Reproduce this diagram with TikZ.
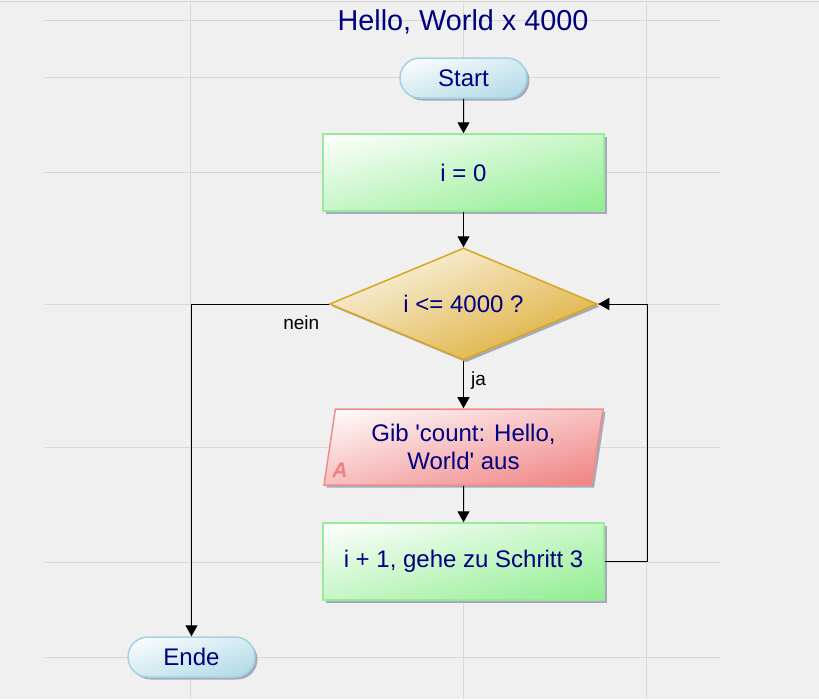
\documentclass[tikz,border=0pt]{standalone}
\usepackage{fontspec}
\setmainfont{Liberation Sans}
\usetikzlibrary{shapes.geometric,shapes.misc,arrows.meta,shadows}
\definecolor{bg}{HTML}{F0F0F0}
\definecolor{gridc}{HTML}{D8D8D8}
\definecolor{txt}{HTML}{000080}
\definecolor{shadowc}{HTML}{A4ACBC}
\definecolor{pillb}{HTML}{A4D2E2}
\definecolor{pillf}{HTML}{ADD8E6}
\definecolor{procb}{HTML}{98EC98}
\definecolor{procf}{HTML}{90EE90}
\definecolor{decb}{HTML}{DAA520}
\definecolor{decf}{HTML}{DAA520}
\definecolor{iob}{HTML}{F08C8C}
\definecolor{iof}{HTML}{F08080}
\begin{document}
\begin{tikzpicture}[x=1pt,y=-1pt,
  gridline/.style={draw=gridc,line width=1pt},
  shad/.style={drop shadow={shadow xshift=2.5pt,shadow yshift=-2.5pt,fill=shadowc,opacity=1}},
  nodetext/.style={text=txt,font=\fontsize{24pt}{28pt}\selectfont,align=center,inner sep=0pt},
  grad/.style={shad,
    preaction={fill opacity=1,left color=white,right color=#1},
    top color=white,bottom color=#1,fill opacity=0.5,draw opacity=1,text opacity=1},
  pill/.style={nodetext,rounded rectangle,draw=pillb,line width=1.5pt,grad=pillf,
    minimum width=127pt,minimum height=40pt},
  proc/.style={nodetext,rectangle,draw=procb,line width=1.5pt,grad=procf,
    minimum width=281pt,minimum height=77pt},
  dec/.style={nodetext,diamond,aspect=2.39,draw=decb,line width=1.5pt,grad=decf,
    minimum width=268pt,minimum height=112pt},
  iobox/.style={nodetext,trapezium,trapezium left angle=76,trapezium right angle=104,
    trapezium stretches body,draw=iob,line width=1.5pt,grad=iof,
    minimum width=279pt,minimum height=76pt},
  conn/.style={draw=black,line width=1pt,-{Triangle[length=11pt,width=12pt]}},
  lab/.style={text=black,font=\fontsize{19pt}{22pt}\selectfont,inner sep=0pt},
]
\useasboundingbox[fill=bg] (0,0) rectangle (819,699);
\draw[draw=gridc!85!black!60,line width=1pt] (0,1) -- (819,1);
% grid
\foreach \gx in {190,463,646} \draw[gridline] (\gx,3) -- (\gx,699);
\foreach \gy in {20,77,172,304,447,562,657} \draw[gridline] (45,\gy) -- (720,\gy);
% title
\node[text=txt,font=\fontsize{28.8pt}{32pt}\selectfont,inner sep=0pt] (title) at (463,22) {Hello, World x 4000};
% nodes
\node[pill] (start) at (463.5,78) {Start};
\node[proc] (init) at (463.5,172.5) {i = 0};
\node[dec] (cond) at (463.5,304) {i <= 4000 ?};
\node[iobox] (out) at (463.5,447) {Gib \textquotesingle count: Hello,\\World\textquotesingle{} aus};
\node[text=iof,font=\bfseries\itshape\fontsize{21pt}{21pt}\selectfont,inner sep=0pt] (outA) at (340,470) {A};
\node[proc] (inc) at (463.5,561.5) {i + 1, gehe zu Schritt 3};
\node[pill] (end) at (191.5,657) {Ende};
% connectors
\draw[conn] (start) -- (init);
\draw[conn] (init) -- (cond);
\draw[conn] (cond) -- node[lab,pos=0.42,xshift=15pt]{ja} (out);
\draw[conn] (out) -- (inc);
\draw[conn] (inc.east) -- ++(42.5,0) |- (cond.east);
\draw[conn] (cond.west) -| node[lab,pos=0.1,yshift=-19pt]{nein} (end.north);
\end{tikzpicture}
\end{document}
